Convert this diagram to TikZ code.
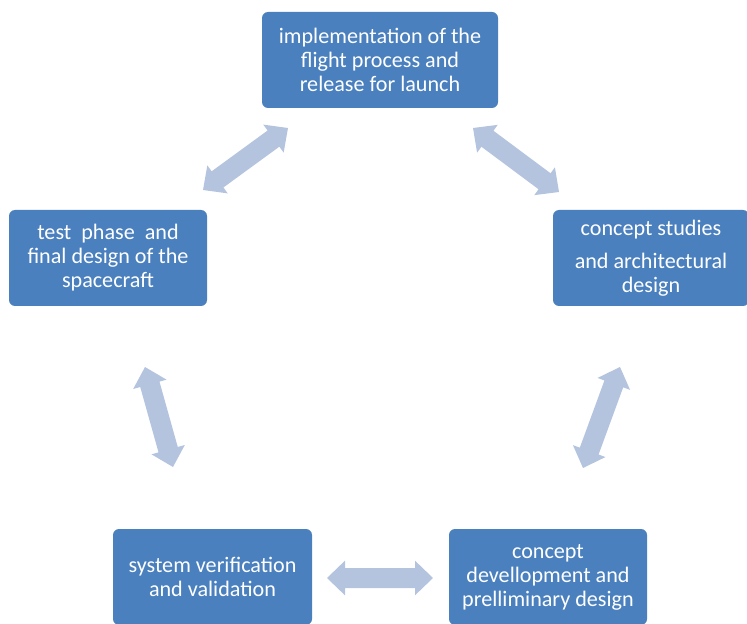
\documentclass[tikz,border=0pt]{standalone}
\usepackage{fontspec}
\setmainfont{Carlito}
\usetikzlibrary{calc}
\definecolor{boxblue}{HTML}{4A80BE}
\definecolor{arrowblue}{HTML}{B4C4DF}
\newcommand\myHL{13.5pt}
\newcommand\myHS{7.5pt}
\newcommand\myHW{13pt}
\newcommand\fatarrow[2]{%
  \fill[arrowblue] (#1)
    -- ($(#1)!\myHL!(#2)!\myHW!90:(#2)$)
    -- ($(#1)!\myHL!(#2)!\myHS!90:(#2)$)
    -- ($(#2)!\myHL!(#1)!\myHS!-90:(#1)$)
    -- ($(#2)!\myHL!(#1)!\myHW!-90:(#1)$)
    -- (#2)
    -- ($(#2)!\myHL!(#1)!\myHW!90:(#1)$)
    -- ($(#2)!\myHL!(#1)!\myHS!90:(#1)$)
    -- ($(#1)!\myHL!(#2)!\myHS!-90:(#2)$)
    -- ($(#1)!\myHL!(#2)!\myHW!-90:(#2)$)
    -- cycle;}
\tikzset{
  stage/.style={fill=boxblue, rounded corners=4.5pt, text=white, align=center,
    font=\fontsize{16.6}{18}\selectfont, inner sep=0pt, minimum height=72pt}
}
\begin{document}
\begin{tikzpicture}[x=0.75pt,y=-0.75pt]
\useasboundingbox (0,0) rectangle (747,624);
\node[stage, minimum width=177pt] (impl) at (380,60) {implementation of the\\flight process and\\release for launch};
\node[stage, minimum width=148.5pt] (test) at (108,258) {test\ \ phase\ \ and\\final design of the\\spacecraft};
\node[stage, minimum width=147pt] (conc) at (651,258) {concept studies\\[6.5pt]and architectural\\design};
\node[stage, minimum width=149.25pt] (sysv) at (212.5,577) {system verification\\and validation};
\node[stage, minimum width=148.5pt] (dev) at (548,577) {concept\\devellopment and\\prelliminary design};
\coordinate (a1s) at (203,190); \coordinate (a1e) at (288,128);
\coordinate (a2s) at (473,128); \coordinate (a2e) at (559,192);
\coordinate (a3s) at (145,367); \coordinate (a3e) at (173,467);
\coordinate (a4s) at (620,367); \coordinate (a4e) at (583,468);
\coordinate (a5s) at (327,578); \coordinate (a5e) at (433,578);
\fatarrow{a1s}{a1e}
\fatarrow{a2s}{a2e}
\fatarrow{a3s}{a3e}
\fatarrow{a4s}{a4e}
\fatarrow{a5s}{a5e}
\end{tikzpicture}
\end{document}
